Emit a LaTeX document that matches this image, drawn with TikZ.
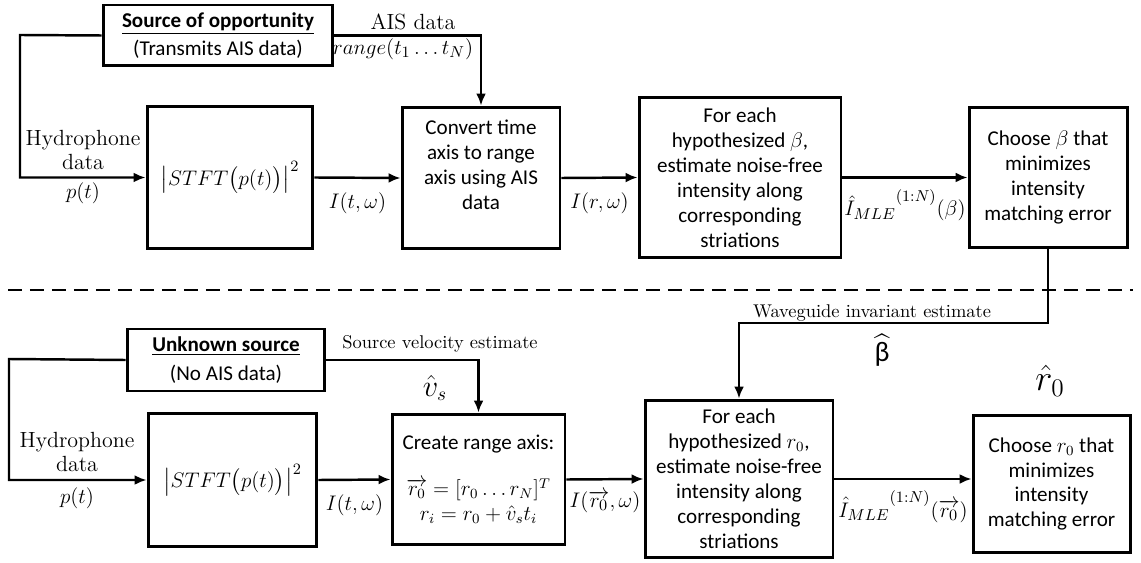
\documentclass[tikz,border=0pt]{standalone}
\usepackage{amsmath,amssymb}
\usepackage{fontspec}
\setsansfont{Carlito}
\usetikzlibrary{arrows.meta,calc}

\begin{document}
\begin{tikzpicture}[x=0.02cm,y=-0.02cm,
	blk/.style={draw,line width=1.7pt,font=\sffamily\fontsize{12}{14.2}\selectfont,align=center,inner sep=0pt},
	lbl/.style={font=\fontsize{12.5}{14.2}\selectfont,align=center,inner sep=0pt},
	con/.style={line width=1.4pt},
	arr/.style={con,-{Latex[length=0.24cm,width=0.2cm]}}]
	\useasboundingbox (0,0) rectangle (1141,563);
	% top row: source of opportunity
	\node[blk,minimum width=4.6cm,minimum height=1.22cm] (src) at (218,35.5) {\underline{\textbf{Source of opportunity}}\\[2pt](Transmits AIS data)};
	\node[blk,minimum width=3.32cm,minimum height=2.86cm,font=\fontsize{12.8}{15}\selectfont] (stftA) at (230,177.5) {$\bigl|STFT\bigl(p(t)\bigr)\bigr|^2$};
	\node[blk,minimum width=3.16cm,minimum height=2.84cm] (conv) at (481,178) {};
	\node[blk,draw=none] (convtxt) at (481,165) {Convert time\\axis to range\\axis using AIS\\data};
	\node[blk,minimum width=4.04cm,minimum height=3.22cm] (eachA) at (740,177.5) {For each\\hypothesized $\beta$,\\estimate noise-free\\intensity along\\corresponding\\striations};
	\node[blk,minimum width=3.16cm,minimum height=2.82cm] (chooseA) at (1048,177.5) {Choose $\beta$ that\\minimizes\\intensity\\matching error};
	\coordinate (hydA) at (20,35);
	\draw[arr] (src.west) -- (hydA) |- (stftA.west);
	\node[lbl] (hydAtxt) at (83,150) {Hydrophone\\data};
	\node[lbl] (pA) at (83,193) {$p(t)$};
	\draw[arr] (src.east) -| (conv.north);
	\node[lbl] (ais) at (413,22) {AIS data};
	\node[lbl] (aisr) at (403,49) {$range(t_1 \ldots t_N)$};
	\draw[arr] (stftA.east) -- (conv.west) node[lbl,midway,below=8pt] (itwA) {$I(t,\omega)$};
	\draw[arr] (conv.east) -- (eachA.west) node[lbl,midway,below=8pt] (irw) {$I(r,\omega)$};
	\draw[arr] (eachA.east) -- (chooseA.west) node[lbl,midway,below=6pt] (imleA) {$\hbox{$\hat{I}_{MLE}$}^{(1:N)}(\beta)$};
	% separator
	\coordinate (sepL) at (8,290);
	\coordinate (sepR) at (1133,290);
	\draw[line width=1.7pt,dash pattern=on 0.28cm off 0.16cm] (sepL) -- (sepR);
	% bottom row: unknown source
	\node[blk,minimum width=3.96cm,minimum height=1.24cm] (unk) at (226,360) {\underline{\textbf{Unknown source}}\\[2pt](No AIS data)};
	\node[blk,minimum width=3.38cm,minimum height=2.68cm,font=\fontsize{12.8}{15}\selectfont] (stftB) at (232.5,480) {$\bigl|STFT\bigl(p(t)\bigr)\bigr|^2$};
	\node[blk,minimum width=3.46cm,minimum height=2.62cm] (create) at (478.5,479.5) {Create range axis:\\[12pt]$\overrightarrow{r_0} = [r_0 \ldots r_N]^T$\\$r_i = r_0 + \hat{v}_s t_i$};
	\node[blk,minimum width=3.76cm,minimum height=3.16cm] (eachB) at (739,479) {For each\\hypothesized $r_0$,\\estimate noise-free\\intensity along\\corresponding\\striations};
	\node[blk,minimum width=3.14cm,minimum height=2.76cm] (chooseB) at (1051.5,484) {Choose $r_0$ that\\minimizes\\intensity\\matching error};
	\coordinate (hydB) at (9,359);
	\draw[arr] (unk.west) -- (hydB) |- (stftB.west);
	\node[lbl] (hydBtxt) at (77,452) {Hydrophone\\data};
	\node[lbl] (pB) at (77,498) {$p(t)$};
	\draw[arr] (unk.east) -| (create.north);
	\node[lbl,font=\fontsize{10.5}{12}\selectfont] (vel) at (440,344) {Source velocity estimate};
	\node[lbl,font=\fontsize{16}{18}\selectfont] (vs) at (435,388) {$\hat{v}_s$};
	\draw[arr] (stftB.east) -- (create.west) node[lbl,midway,below=8pt] (itwB) {$I(t,\omega)$};
	\draw[arr] (create.east) -- (eachB.west) node[lbl,midway,below=6pt] (irwB) {$I(\overrightarrow{r_0},\omega)$};
	\draw[arr] (eachB.east) -- (eachB.east -| chooseB.west) node[lbl,midway,below=6pt] (imleB) {$\hbox{$\hat{I}_{MLE}$}^{(1:N)}(\overrightarrow{r_0})$};
	\node[lbl,font=\fontsize{21}{23}\selectfont] (r0hat) at (1050,381) {$\hat{r}_0$};
	% waveguide invariant feedback
	\coordinate (wg) at (739,323);
	\draw[arr] (chooseA.south) |- (wg) -- (eachB.north);
	\node[lbl,font=\fontsize{10.5}{12}\selectfont] (wgtxt) at (872,313) {Waveguide invariant estimate};
	\node[lbl,font=\fontsize{16}{18}\selectfont] (bhat) at (882,350) {$\widehat{\textsf{β}}$};
\end{tikzpicture}
\end{document}
